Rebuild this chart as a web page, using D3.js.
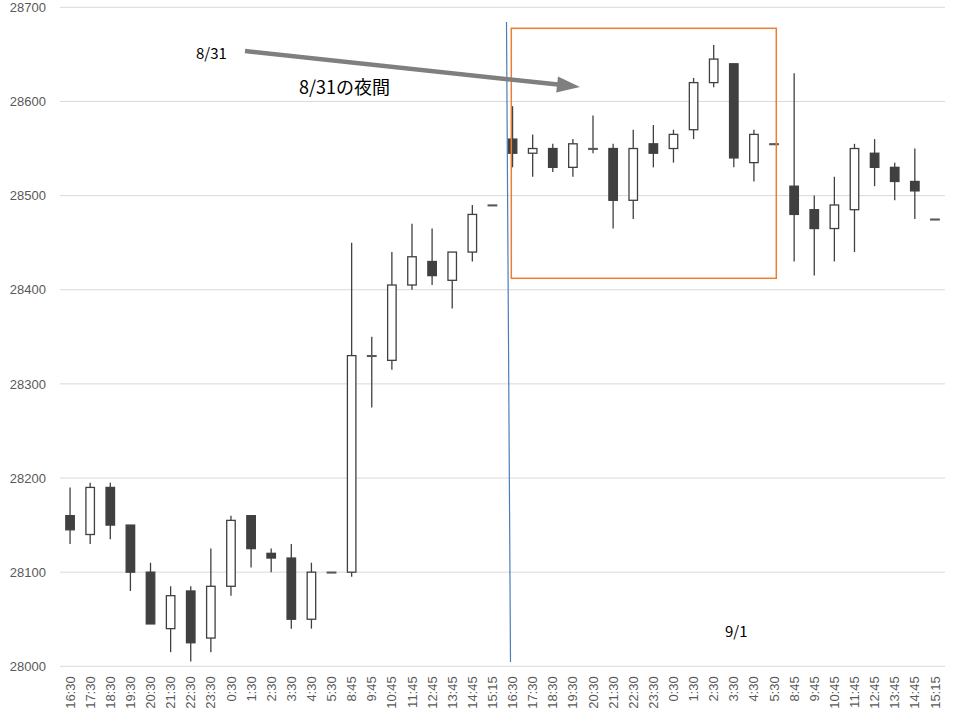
<!DOCTYPE html>
<html><head><meta charset="utf-8">
<script src="https://cdn.jsdelivr.net/npm/d3@7/dist/d3.min.js"></script>
<style>body{margin:0;background:#fff}svg{display:block}</style>
</head><body>
<svg id="c" width="963" height="720"></svg>
<script>
const categories = ["16:30","17:30","18:30","19:30","20:30","21:30","22:30","23:30","0:30","1:30","2:30","3:30","4:30","5:30","8:45","9:45","10:45","11:45","12:45","13:45","14:45","15:15",
  "16:30","17:30","18:30","19:30","20:30","21:30","22:30","23:30","0:30","1:30","2:30","3:30","4:30","5:30","8:45","9:45","10:45","11:45","12:45","13:45","14:45","15:15"];
const openV  = [28160,28140,28190,28150,28100,28040,28080,28030,28085,28160,28120,28115,28050,28100,28100,28330,28325,28405,28430,28410,28440,28490,
  28560,28545,28550,28530,28550,28550,28495,28555,28550,28570,28620,28640,28535,28555,28510,28485,28465,28485,28545,28530,28515,28475];
const closeV = [28145,28190,28150,28100,28045,28075,28025,28085,28155,28125,28115,28050,28100,28100,28330,28330,28405,28435,28415,28440,28480,28490,
  28545,28550,28530,28555,28550,28495,28550,28545,28565,28620,28645,28540,28565,28555,28480,28465,28490,28550,28530,28515,28505,28475];
const highV  = [28190,28195,28195,28150,28110,28085,28085,28125,28160,28160,28125,28130,28110,28100,28450,28350,28440,28470,28465,28440,28490,28490,
  28595,28565,28555,28560,28585,28555,28570,28575,28570,28625,28660,28640,28570,28555,28630,28500,28520,28555,28560,28535,28550,28475];
const lowV   = [28130,28130,28135,28080,28045,28015,28005,28015,28075,28105,28100,28040,28040,28100,28095,28275,28315,28400,28405,28380,28430,28490,
  28530,28520,28525,28520,28545,28465,28475,28530,28535,28560,28615,28530,28515,28555,28430,28415,28430,28440,28510,28495,28475,28475];
const yTicks = [28000,28100,28200,28300,28400,28500,28600,28700];

const svg = d3.select("#c");
const L = 60, R = 945, T = 7.3, B = 666.3;
const idx = categories.map((d,i)=>i);
const x = d3.scaleBand().domain(idx).range([L,R]).padding(0);
const y = d3.scaleLinear().domain([28000,28700]).range([B,T]);
const bw = 8.5;
const dark = "#404040";

// gridlines
svg.append("g").selectAll("line").data(yTicks).join("line")
  .attr("x1",L).attr("x2",R).attr("y1",d=>y(d)).attr("y2",d=>y(d))
  .attr("stroke","#d9d9d9").attr("stroke-width",1);

// y axis labels
const yAxis = d3.axisLeft(y).tickValues(yTicks).tickSize(0).tickPadding(0).tickFormat(d3.format("d"));
const yg = svg.append("g").attr("transform",`translate(46,0)`).call(yAxis);
yg.select(".domain").remove();
yg.selectAll("text").attr("fill","#595959").style("font-family","Liberation Sans, Arial, sans-serif").style("font-size","13px");

// x axis labels
const xAxis = d3.axisBottom(x).tickSize(0).tickFormat(i=>categories[i]);
const xg = svg.append("g").attr("transform",`translate(0,${B})`).call(xAxis);
xg.select(".domain").remove();
xg.selectAll("text")
  .attr("fill","#595959").style("font-family","Liberation Sans, Arial, sans-serif").style("font-size","13px")
  .attr("text-anchor","end").attr("transform","rotate(-90)").attr("x",-10).attr("y",0).attr("dy","0.35em");

const data = idx.map(i=>({i,o:openV[i],c:closeV[i],h:highV[i],l:lowV[i]}));
const g = svg.append("g");
const cx = d=>x(d.i)+x.bandwidth()/2;
// wicks
g.selectAll("line.w").data(data.filter(d=>d.h!==d.l)).join("line").attr("class","w")
  .attr("x1",cx).attr("x2",cx).attr("y1",d=>y(d.h)).attr("y2",d=>y(d.l))
  .attr("stroke",dark).attr("stroke-width",1.3);
// bodies
g.selectAll("rect.b").data(data).join("rect").attr("class","b")
  .attr("x",d=>cx(d)-bw/2).attr("width",bw)
  .attr("y",d=>y(Math.max(d.o,d.c)))
  .attr("height",d=>Math.max(Math.abs(y(d.o)-y(d.c)),0.8))
  .attr("fill",d=>d.c<d.o?dark:(d.c===d.o?"#595959":"#fff"))
  .attr("stroke",d=>d.c===d.o?"#595959":dark).attr("stroke-width",1.3);

// annotations
svg.append("line").attr("x1",506.5).attr("y1",22).attr("x2",510.5).attr("y2",662)
  .attr("stroke","#4a7ebb").attr("stroke-width",1.2);
svg.append("rect").attr("x",511.3).attr("y",28.3).attr("width",265).attr("height",250)
  .attr("fill","none").attr("stroke","#ed7d31").attr("stroke-width",1.5);
svg.append("line").attr("x1",245).attr("y1",51).attr("x2",558).attr("y2",84.6)
  .attr("stroke","#7f7f7f").attr("stroke-width",4.5);
svg.append("polygon").attr("points","580,87 556.2,92.6 558,76.4").attr("fill","#7f7f7f");

const jf = "'Noto Sans CJK JP', sans-serif";
svg.append("text").attr("x",196).attr("y",58.5).text("8/31")
  .style("font-family",jf).style("font-size","15px").attr("fill","#000");
svg.append("text").attr("x",299).attr("y",94).text("8/31の夜間")
  .style("font-family",jf).style("font-size","18px").attr("fill","#000");
svg.append("text").attr("x",725).attr("y",636.5).text("9/1")
  .style("font-family",jf).style("font-size","15px").attr("fill","#000");
</script>
</body></html>
